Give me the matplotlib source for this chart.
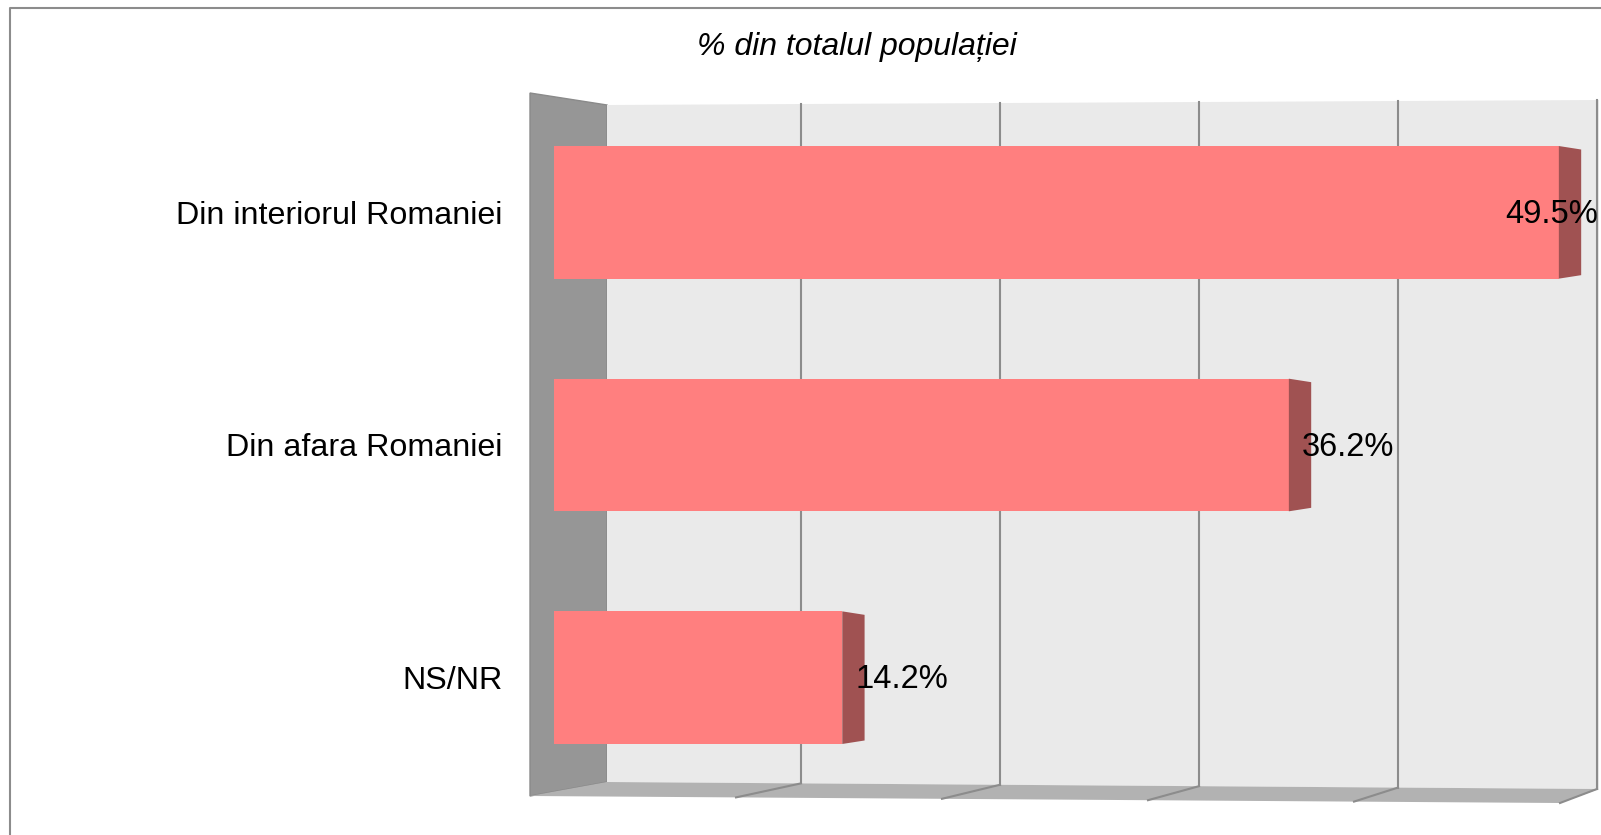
import matplotlib.pyplot as plt
from matplotlib.patches import Polygon

categories = ['Din interiorul Romaniei', 'Din afara Romaniei', 'NS/NR']
values = [49.5, 36.2, 14.2]
grid_ticks = [0, 10, 20, 30, 40, 50]
title = '% din totalul populației'

plt.rcParams['font.family'] = ['Liberation Sans', 'DejaVu Sans']

W, H = 1601, 835
fig = plt.figure(figsize=(W / 100, H / 100), dpi=100)


def box(x0, y0, x1, y1):
    return [x0 / W, 1 - y1 / H, (x1 - x0) / W, (y1 - y0) / H]


# background layer in pixels: frame, side wall, back wall, floor
bg = fig.add_axes([0, 0, 1, 1], zorder=0)
bg.set_xlim(0, W)
bg.set_ylim(H, 0)
bg.axis('off')
bg.plot([9.5, 9.5, W], [H, 8, 8], color='#8c8c8c', lw=1.5)

bg.add_patch(Polygon([(530, 93), (607, 105), (607, 782), (530, 796)],
                     facecolor='#969696', edgecolor='#8a8a8a', lw=1))
bg.add_patch(Polygon([(607, 105), (1599, 100), (1599, 789), (607, 782)],
                     facecolor='#eaeaea', edgecolor='none'))
bg.add_patch(Polygon([(607, 782), (1599, 789), (1560, 803), (530, 796)],
                     facecolor='#b2b2b2', edgecolor='none'))

# gridlines on the back wall and their continuation across the floor
for t in grid_ticks[1:]:
    xb = 602 + t * 19.9
    f = (xb - 607) / (1599 - 607)
    ytop = 105 - 5 * f
    ybot = 782 + 7 * f
    xf = 530 + t * 20.6
    yf = 796 + t / 50 * 7
    bg.plot([xb, xb], [ytop, ybot], color='#8c8c8c', lw=1.5)
    bg.plot([xb, xf], [ybot, yf], color='#8c8c8c', lw=1.5)

# bars
ax = fig.add_axes(box(554, 96, 554 + 51.5 * 20.3, 794), zorder=2)
ax.patch.set_alpha(0)
ax.set_xlim(0, 51.5)
ax.set_ylim(2.5, -0.5)
ypos = list(range(len(categories)))
ax.barh(ypos, values, height=0.57, color='#ff7f7f', zorder=2)
for i, v in zip(ypos, values):
    ax.add_patch(Polygon([(v, i - 0.285), (v + 1.1, i - 0.27),
                          (v + 1.1, i + 0.27), (v, i + 0.285)],
                         facecolor='#a05252', edgecolor='none', zorder=2))
    ax.text(min(v + 0.65, 46.85), i + 0.01, f'{v}%', ha='left', va='center',
            fontsize=23.5, color='black', zorder=3, clip_on=False)

ax.set_yticks(ypos)
ax.set_yticklabels(categories, fontsize=23.2)
ax.set_xticks([])
ax.tick_params(axis='y', length=0, pad=37)
for s in ax.spines.values():
    s.set_visible(False)

fig.text(857 / W, 1 - 47 / H, title, ha='center', va='center',
         fontsize=23, style='italic')

fig.savefig('out.png', dpi=100)
